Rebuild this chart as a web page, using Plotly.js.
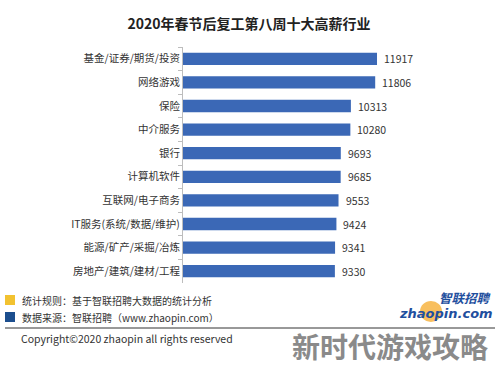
<!DOCTYPE html>
<html>
<head>
<meta charset="utf-8">
<script src="https://cdn.plot.ly/plotly-3.0.1.min.js"></script>
<style>html,body{margin:0;padding:0;background:#fff;}#chart{width:498px;height:369px;}</style>
</head>
<body>
<div id="chart"></div>
<script>
var categories = ['基金/证券/期货/投资','网络游戏','保险','中介服务','银行','计算机软件','互联网/电子商务','IT服务(系统/数据/维护)','能源/矿产/采掘/冶炼','房地产/建筑/建材/工程'];
var values = [11917,11806,10313,10280,9693,9685,9553,9424,9341,9330];
var titleText = '2020年春节后复工第八周十大高薪行业';
var noteRule = '统计规则：基于智联招聘大数据的统计分析';
var noteSource = '数据来源：智联招聘（www.zhaopin.com）';
var copyrightText = 'Copyright©2020 zhaopin all rights reserved';
var logoCn = '智联招聘';
var logoEn = 'zhaopin.com';
var watermark = '新时代游戏攻略';

var W = 498, H = 369;
var L = 183, R = 480, T = 47, B = 283;
function px(x){ return (x - L) / (R - L); }
function py(y){ return (B - y) / (B - T); }
var FONT = '"Noto Sans CJK SC", "Noto Sans", sans-serif';

var trace = {
  type: 'bar',
  orientation: 'h',
  x: values,
  y: categories,
  marker: {color: '#3b68b6', line: {width: 0}},
  hoverinfo: 'none'
};

var annotations = [];
for (var i = 0; i < values.length; i++) {
  annotations.push({
    x: values[i], y: categories[i], xref: 'x', yref: 'y',
    text: String(values[i]), showarrow: false, xanchor: 'left', xshift: 5,
    font: {family: FONT, size: 10.5, color: '#333333'}
  });
}
annotations.push({x: px(20), y: py(300), xref: 'paper', yref: 'paper', text: noteRule, showarrow: false, xanchor: 'left', yanchor: 'middle', font: {family: FONT, size: 10, color: '#333333'}});
annotations.push({x: px(20), y: py(317), xref: 'paper', yref: 'paper', text: noteSource, showarrow: false, xanchor: 'left', yanchor: 'middle', font: {family: FONT, size: 10, color: '#333333'}});
annotations.push({x: px(19), y: py(338), xref: 'paper', yref: 'paper', text: copyrightText, showarrow: false, xanchor: 'left', yanchor: 'middle', font: {family: FONT, size: 10.5, color: '#333333'}});
annotations.push({x: px(494), y: py(297), xref: 'paper', yref: 'paper', text: '<b><i>' + logoCn + '</i></b>', showarrow: false, xanchor: 'right', yanchor: 'middle', font: {family: FONT, size: 12.5, color: '#1f4f9e'}});
annotations.push({x: px(495), y: py(313), xref: 'paper', yref: 'paper', text: '<b><i>' + logoEn + '</i></b>', showarrow: false, xanchor: 'right', yanchor: 'middle', font: {family: '"DejaVu Sans", sans-serif', size: 13, color: '#1f4f9e'}});
annotations.push({x: px(390), y: py(346), xref: 'paper', yref: 'paper', text: '<b>' + watermark + '</b>', showarrow: false, xanchor: 'center', yanchor: 'middle', font: {family: FONT, size: 28, color: '#8a8a8a'}});

var shapes = [
  {type: 'rect', xref: 'paper', yref: 'paper', x0: px(5), x1: px(15), y0: py(295), y1: py(305), fillcolor: '#f2c230', line: {width: 0}},
  {type: 'rect', xref: 'paper', yref: 'paper', x0: px(5), x1: px(15), y0: py(312), y1: py(322), fillcolor: '#1c4e8e', line: {width: 0}},
  {type: 'line', xref: 'paper', yref: 'paper', x0: px(5), x1: px(495), y0: py(328), y1: py(328), line: {color: '#333333', width: 1}},
  {type: 'circle', xref: 'paper', yref: 'paper', x0: px(420), x1: px(442), y0: py(301), y1: py(322), fillcolor: 'rgba(245,170,40,0.75)', line: {width: 0}, layer: 'below'}
];

var layout = {
  width: W, height: H,
  margin: {l: L, r: W - R, t: T, b: H - B, pad: 0},
  paper_bgcolor: '#ffffff', plot_bgcolor: '#ffffff',
  showlegend: false,
  bargap: 0.48,
  title: {text: '<b>' + titleText + '</b>', x: 0.5, xref: 'container', xanchor: 'center', y: 1 - 24 / H, yref: 'container', yanchor: 'middle', font: {family: FONT, size: 14, color: '#222222'}},
  xaxis: {range: [0, (R - L) / 0.01628], visible: false, fixedrange: true},
  yaxis: {
    type: 'category', autorange: 'reversed',
    showline: true, linecolor: '#bdbdbd', linewidth: 1,
    ticks: 'outside', tickson: 'boundaries', ticklen: 4, tickcolor: '#bdbdbd',
    showgrid: false, zeroline: false,
    tickfont: {family: FONT, size: 10.5, color: '#333333'}
  },
  annotations: annotations,
  shapes: shapes,
  font: {family: FONT}
};

Plotly.newPlot('chart', [trace], layout, {displayModeBar: false, staticPlot: true});
</script>
</body>
</html>
